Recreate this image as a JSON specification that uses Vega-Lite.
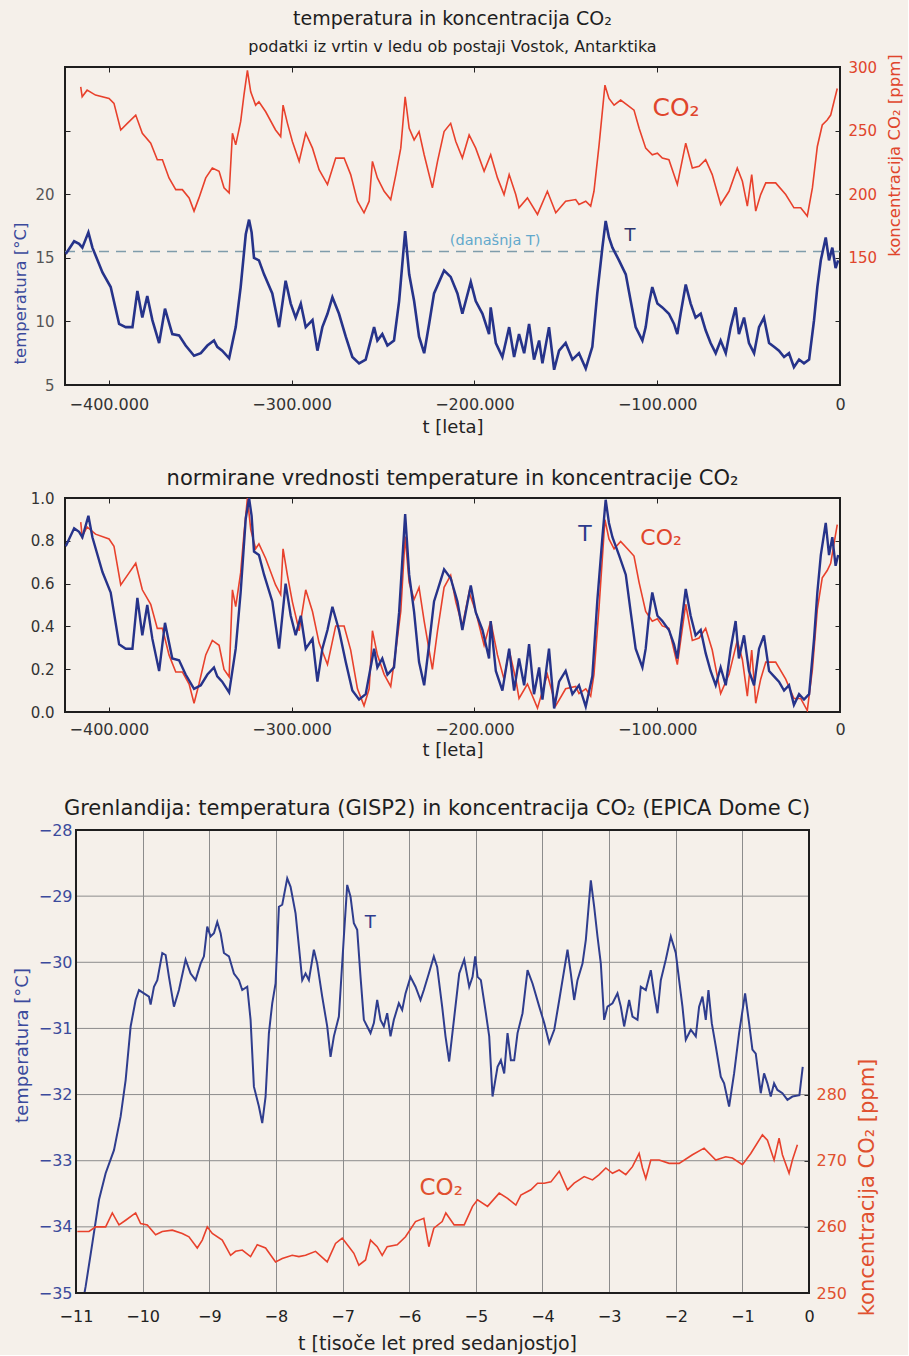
{
"$schema": "https://vega.github.io/schema/vega-lite/v6.json",
"background": "#f5f0ea",
"padding": {"left": 11, "top": 8, "right": 3, "bottom": 2},
"datasets": {
"vostokT": [
{"year":-423600,"T":15.3},{"year":-419000,"T":16.3},{"year":-416300,"T":16.1},{"year":-414500,"T":15.8},{"year":-411200,"T":17.0},{"year":-409000,"T":15.8},{"year":-403500,"T":13.85},{"year":-399000,"T":12.7},{"year":-394400,"T":9.8},{"year":-390800,"T":9.55},{"year":-387100,"T":9.55},{"year":-384400,"T":12.4},{"year":-381700,"T":10.3},{"year":-379000,"T":12.0},{"year":-376200,"T":10.1},{"year":-372500,"T":8.3},{"year":-369300,"T":11.0},{"year":-365300,"T":9.0},{"year":-361600,"T":8.9},{"year":-358000,"T":8.1},{"year":-353400,"T":7.3},{"year":-349700,"T":7.5},{"year":-346100,"T":8.1},{"year":-342500,"T":8.5},{"year":-340700,"T":8.0},{"year":-338000,"T":7.7},{"year":-334200,"T":7.1},{"year":-330600,"T":9.55},{"year":-327900,"T":12.7},{"year":-325100,"T":16.85},{"year":-323300,"T":18.0},{"year":-321900,"T":17.0},{"year":-320600,"T":15.0},{"year":-317900,"T":14.8},{"year":-315100,"T":13.7},{"year":-310600,"T":12.2},{"year":-306900,"T":9.55},{"year":-303300,"T":13.2},{"year":-300500,"T":11.4},{"year":-297800,"T":10.3},{"year":-295000,"T":11.4},{"year":-292300,"T":9.55},{"year":-288600,"T":10.1},{"year":-285900,"T":7.7},{"year":-283200,"T":9.55},{"year":-280400,"T":10.6},{"year":-277700,"T":11.9},{"year":-274100,"T":10.6},{"year":-270400,"T":8.8},{"year":-266800,"T":7.2},{"year":-263100,"T":6.7},{"year":-259500,"T":7.0},{"year":-254900,"T":9.55},{"year":-253100,"T":8.5},{"year":-250400,"T":9.0},{"year":-247600,"T":8.1},{"year":-244000,"T":8.5},{"year":-241200,"T":11.6},{"year":-237900,"T":17.1},{"year":-235700,"T":13.7},{"year":-233000,"T":11.6},{"year":-230300,"T":8.8},{"year":-227500,"T":7.5},{"year":-224800,"T":9.8},{"year":-222100,"T":12.2},{"year":-216600,"T":14.0},{"year":-213000,"T":13.5},{"year":-209300,"T":12.2},{"year":-206600,"T":10.6},{"year":-202000,"T":13.1},{"year":-199300,"T":11.6},{"year":-195600,"T":10.6},{"year":-192000,"T":9.0},{"year":-191100,"T":11.1},{"year":-188300,"T":8.3},{"year":-184700,"T":7.2},{"year":-181000,"T":9.55},{"year":-178300,"T":7.2},{"year":-175600,"T":9.0},{"year":-172800,"T":7.5},{"year":-170100,"T":9.8},{"year":-167400,"T":7.0},{"year":-164600,"T":8.5},{"year":-162800,"T":6.7},{"year":-159200,"T":9.55},{"year":-156400,"T":6.2},{"year":-153700,"T":7.7},{"year":-150100,"T":8.3},{"year":-146400,"T":7.0},{"year":-142800,"T":7.5},{"year":-139100,"T":6.3},{"year":-135500,"T":8.0},{"year":-132800,"T":12.2},{"year":-130000,"T":15.8},{"year":-128200,"T":17.9},{"year":-126400,"T":16.6},{"year":-124500,"T":15.8},{"year":-120900,"T":14.8},{"year":-117200,"T":13.7},{"year":-114500,"T":11.6},{"year":-111800,"T":9.55},{"year":-108100,"T":8.5},{"year":-106300,"T":9.55},{"year":-104500,"T":11.4},{"year":-102700,"T":12.7},{"year":-99900,"T":11.4},{"year":-97200,"T":11.1},{"year":-93600,"T":10.6},{"year":-90800,"T":9.8},{"year":-89000,"T":9.0},{"year":-87200,"T":10.6},{"year":-84400,"T":12.9},{"year":-81700,"T":11.4},{"year":-79000,"T":10.3},{"year":-76200,"T":10.6},{"year":-73500,"T":9.3},{"year":-70800,"T":8.3},{"year":-68000,"T":7.5},{"year":-65300,"T":8.5},{"year":-62500,"T":7.5},{"year":-59800,"T":9.55},{"year":-57100,"T":11.1},{"year":-55300,"T":9.0},{"year":-52500,"T":10.3},{"year":-49800,"T":8.3},{"year":-47000,"T":7.5},{"year":-44300,"T":9.55},{"year":-41600,"T":10.3},{"year":-38800,"T":8.3},{"year":-36100,"T":8.0},{"year":-33400,"T":7.7},{"year":-30600,"T":7.2},{"year":-27900,"T":7.5},{"year":-25200,"T":6.4},{"year":-22400,"T":7.0},{"year":-19700,"T":6.7},{"year":-16900,"T":7.0},{"year":-14200,"T":10.1},{"year":-12400,"T":12.7},{"year":-10500,"T":14.8},{"year":-7800,"T":16.6},{"year":-6000,"T":14.8},{"year":-4200,"T":15.8},{"year":-2400,"T":14.2},{"year":-1000,"T":14.8}
],
"vostokCO2": [
{"year":-415400,"co2":284.4},{"year":-414600,"co2":276.6},{"year":-411900,"co2":281.8},{"year":-407300,"co2":277.9},{"year":-399900,"co2":275.3},{"year":-397200,"co2":271.4},{"year":-393500,"co2":250.5},{"year":-389900,"co2":255.7},{"year":-385300,"co2":262.2},{"year":-381700,"co2":247.9},{"year":-377100,"co2":240.1},{"year":-373500,"co2":227.1},{"year":-370700,"co2":227.1},{"year":-367100,"co2":212.8},{"year":-363400,"co2":203.6},{"year":-359800,"co2":203.6},{"year":-356100,"co2":197.1},{"year":-353400,"co2":186.7},{"year":-350700,"co2":197.1},{"year":-347000,"co2":212.8},{"year":-343400,"co2":220.6},{"year":-339700,"co2":218.0},{"year":-337000,"co2":205.0},{"year":-334200,"co2":201.0},{"year":-332400,"co2":247.9},{"year":-330600,"co2":238.8},{"year":-327900,"co2":257.0},{"year":-326100,"co2":277.9},{"year":-324200,"co2":297.4},{"year":-322400,"co2":280.5},{"year":-319700,"co2":270.0},{"year":-317900,"co2":272.7},{"year":-314200,"co2":264.8},{"year":-308800,"co2":250.5},{"year":-306000,"co2":245.3},{"year":-304700,"co2":270.0},{"year":-302300,"co2":255.7},{"year":-299600,"co2":241.4},{"year":-295900,"co2":225.8},{"year":-292300,"co2":247.9},{"year":-288600,"co2":236.2},{"year":-285000,"co2":219.3},{"year":-280400,"co2":207.6},{"year":-275900,"co2":228.4},{"year":-271300,"co2":228.4},{"year":-267700,"co2":215.4},{"year":-264000,"co2":194.5},{"year":-260400,"co2":185.4},{"year":-257600,"co2":194.5},{"year":-255800,"co2":225.8},{"year":-253100,"co2":212.8},{"year":-249400,"co2":202.3},{"year":-245800,"co2":195.8},{"year":-243000,"co2":215.4},{"year":-240300,"co2":236.2},{"year":-237900,"co2":276.6},{"year":-235700,"co2":251.8},{"year":-233000,"co2":242.7},{"year":-230300,"co2":249.2},{"year":-227500,"co2":231.0},{"year":-223000,"co2":205.0},{"year":-220200,"co2":225.8},{"year":-216600,"co2":249.2},{"year":-213000,"co2":255.7},{"year":-210200,"co2":241.4},{"year":-206600,"co2":228.4},{"year":-202900,"co2":246.6},{"year":-199300,"co2":236.2},{"year":-194700,"co2":218.0},{"year":-191100,"co2":231.0},{"year":-187400,"co2":212.8},{"year":-183800,"co2":199.7},{"year":-181000,"co2":215.4},{"year":-177400,"co2":199.7},{"year":-175600,"co2":189.3},{"year":-171000,"co2":197.1},{"year":-165500,"co2":184.1},{"year":-160100,"co2":202.3},{"year":-155500,"co2":185.4},{"year":-150100,"co2":194.5},{"year":-144600,"co2":195.8},{"year":-142800,"co2":191.9},{"year":-139100,"co2":194.5},{"year":-136400,"co2":190.6},{"year":-134600,"co2":202.3},{"year":-131800,"co2":238.8},{"year":-128600,"co2":285.7},{"year":-126400,"co2":275.3},{"year":-123600,"co2":270.0},{"year":-120000,"co2":274.0},{"year":-116300,"co2":270.0},{"year":-112700,"co2":266.1},{"year":-109900,"co2":251.8},{"year":-106300,"co2":236.2},{"year":-102700,"co2":231.0},{"year":-99900,"co2":232.3},{"year":-97200,"co2":228.4},{"year":-93600,"co2":227.1},{"year":-89000,"co2":207.6},{"year":-84400,"co2":240.1},{"year":-80800,"co2":220.6},{"year":-77100,"co2":221.9},{"year":-73500,"co2":227.1},{"year":-69900,"co2":215.4},{"year":-65300,"co2":191.9},{"year":-60700,"co2":202.3},{"year":-56200,"co2":220.6},{"year":-53400,"co2":210.2},{"year":-50700,"co2":190.6},{"year":-48300,"co2":215.4},{"year":-46100,"co2":186.7},{"year":-43400,"co2":199.7},{"year":-40600,"co2":208.9},{"year":-35200,"co2":208.9},{"year":-29700,"co2":199.7},{"year":-25200,"co2":189.3},{"year":-21500,"co2":189.3},{"year":-17900,"co2":182.8},{"year":-15100,"co2":204.9},{"year":-12400,"co2":237.5},{"year":-9700,"co2":254.4},{"year":-7000,"co2":258.3},{"year":-5100,"co2":262.2},{"year":-3300,"co2":272.7},{"year":-1500,"co2":283.1}
],
"gispT": [
{"t":-10.9,"T":-35.15},{"t":-10.855,"T":-34.9},{"t":-10.755,"T":-34.25},{"t":-10.655,"T":-33.59},{"t":-10.555,"T":-33.19},{"t":-10.43,"T":-32.84},{"t":-10.33,"T":-32.33},{"t":-10.255,"T":-31.78},{"t":-10.18,"T":-30.97},{"t":-10.105,"T":-30.57},{"t":-10.055,"T":-30.42},{"t":-9.98,"T":-30.47},{"t":-9.905,"T":-30.52},{"t":-9.88,"T":-30.64},{"t":-9.83,"T":-30.37},{"t":-9.78,"T":-30.27},{"t":-9.705,"T":-29.86},{"t":-9.655,"T":-29.89},{"t":-9.605,"T":-30.22},{"t":-9.53,"T":-30.67},{"t":-9.455,"T":-30.42},{"t":-9.355,"T":-29.96},{"t":-9.28,"T":-30.17},{"t":-9.205,"T":-30.27},{"t":-9.13,"T":-30.02},{"t":-9.08,"T":-29.91},{"t":-9.03,"T":-29.46},{"t":-8.98,"T":-29.61},{"t":-8.93,"T":-29.56},{"t":-8.88,"T":-29.39},{"t":-8.83,"T":-29.56},{"t":-8.78,"T":-29.86},{"t":-8.705,"T":-29.91},{"t":-8.63,"T":-30.17},{"t":-8.555,"T":-30.27},{"t":-8.505,"T":-30.42},{"t":-8.43,"T":-30.37},{"t":-8.38,"T":-30.87},{"t":-8.33,"T":-31.88},{"t":-8.255,"T":-32.18},{"t":-8.205,"T":-32.43},{"t":-8.155,"T":-32.03},{"t":-8.105,"T":-31.07},{"t":-8.055,"T":-30.62},{"t":-8.005,"T":-30.32},{"t":-7.955,"T":-29.16},{"t":-7.905,"T":-29.13},{"t":-7.83,"T":-28.73},{"t":-7.78,"T":-28.86},{"t":-7.705,"T":-29.26},{"t":-7.655,"T":-29.76},{"t":-7.605,"T":-30.27},{"t":-7.555,"T":-30.17},{"t":-7.505,"T":-30.27},{"t":-7.43,"T":-29.81},{"t":-7.38,"T":-30.02},{"t":-7.305,"T":-30.52},{"t":-7.23,"T":-30.97},{"t":-7.18,"T":-31.43},{"t":-7.13,"T":-31.12},{"t":-7.055,"T":-30.82},{"t":-6.98,"T":-29.61},{"t":-6.93,"T":-28.83},{"t":-6.88,"T":-29.01},{"t":-6.83,"T":-29.41},{"t":-6.78,"T":-29.51},{"t":-6.73,"T":-30.22},{"t":-6.68,"T":-30.87},{"t":-6.63,"T":-30.97},{"t":-6.58,"T":-31.07},{"t":-6.53,"T":-30.92},{"t":-6.48,"T":-30.57},{"t":-6.43,"T":-30.87},{"t":-6.38,"T":-30.97},{"t":-6.33,"T":-30.77},{"t":-6.28,"T":-31.12},{"t":-6.23,"T":-30.87},{"t":-6.155,"T":-30.62},{"t":-6.105,"T":-30.72},{"t":-6.055,"T":-30.47},{"t":-5.98,"T":-30.22},{"t":-5.905,"T":-30.37},{"t":-5.83,"T":-30.57},{"t":-5.78,"T":-30.42},{"t":-5.705,"T":-30.17},{"t":-5.63,"T":-29.91},{"t":-5.58,"T":-30.07},{"t":-5.505,"T":-30.67},{"t":-5.455,"T":-31.12},{"t":-5.4,"T":-31.5},{"t":-5.249,"T":-30.17},{"t":-5.174,"T":-29.96},{"t":-5.099,"T":-30.37},{"t":-5.049,"T":-30.22},{"t":-5.009,"T":-29.91},{"t":-4.974,"T":-30.22},{"t":-4.924,"T":-30.27},{"t":-4.849,"T":-30.77},{"t":-4.799,"T":-31.12},{"t":-4.749,"T":-32.03},{"t":-4.674,"T":-31.58},{"t":-4.624,"T":-31.48},{"t":-4.574,"T":-31.68},{"t":-4.524,"T":-31.07},{"t":-4.474,"T":-31.48},{"t":-4.424,"T":-31.48},{"t":-4.374,"T":-31.07},{"t":-4.299,"T":-30.77},{"t":-4.224,"T":-30.12},{"t":-4.149,"T":-30.32},{"t":-4.048,"T":-30.67},{"t":-3.973,"T":-30.92},{"t":-3.898,"T":-31.22},{"t":-3.823,"T":-31.02},{"t":-3.748,"T":-30.57},{"t":-3.699,"T":-30.27},{"t":-3.624,"T":-29.81},{"t":-3.574,"T":-30.17},{"t":-3.524,"T":-30.57},{"t":-3.474,"T":-30.27},{"t":-3.399,"T":-30.02},{"t":-3.349,"T":-29.66},{"t":-3.274,"T":-28.76},{"t":-3.224,"T":-29.16},{"t":-3.174,"T":-29.61},{"t":-3.124,"T":-30.02},{"t":-3.074,"T":-30.87},{"t":-3.024,"T":-30.67},{"t":-2.949,"T":-30.62},{"t":-2.874,"T":-30.47},{"t":-2.824,"T":-30.67},{"t":-2.774,"T":-30.97},{"t":-2.699,"T":-30.57},{"t":-2.649,"T":-30.82},{"t":-2.574,"T":-30.87},{"t":-2.524,"T":-30.37},{"t":-2.449,"T":-30.42},{"t":-2.374,"T":-30.12},{"t":-2.324,"T":-30.47},{"t":-2.274,"T":-30.77},{"t":-2.224,"T":-30.27},{"t":-2.149,"T":-29.96},{"t":-2.074,"T":-29.61},{"t":-1.999,"T":-29.86},{"t":-1.949,"T":-30.27},{"t":-1.899,"T":-30.67},{"t":-1.849,"T":-31.17},{"t":-1.774,"T":-31.02},{"t":-1.699,"T":-31.12},{"t":-1.649,"T":-30.67},{"t":-1.599,"T":-30.52},{"t":-1.549,"T":-30.87},{"t":-1.509,"T":-30.42},{"t":-1.459,"T":-30.92},{"t":-1.399,"T":-31.27},{"t":-1.324,"T":-31.73},{"t":-1.274,"T":-31.83},{"t":-1.199,"T":-32.18},{"t":-1.124,"T":-31.68},{"t":-1.049,"T":-31.07},{"t":-0.959,"T":-30.47},{"t":-0.899,"T":-30.92},{"t":-0.849,"T":-31.32},{"t":-0.799,"T":-31.38},{"t":-0.724,"T":-31.98},{"t":-0.674,"T":-31.68},{"t":-0.624,"T":-31.83},{"t":-0.574,"T":-32.03},{"t":-0.524,"T":-31.83},{"t":-0.474,"T":-31.93},{"t":-0.399,"T":-31.98},{"t":-0.324,"T":-32.08},{"t":-0.249,"T":-32.03},{"t":-0.144,"T":-32.01},{"t":-0.094,"T":-31.58}
],
"epicaCO2": [
{"t":-10.98,"co2":259.3},{"t":-10.805,"co2":259.3},{"t":-10.705,"co2":260.0},{"t":-10.555,"co2":260.0},{"t":-10.455,"co2":262.1},{"t":-10.355,"co2":260.3},{"t":-10.255,"co2":261.0},{"t":-10.105,"co2":262.1},{"t":-10.03,"co2":260.5},{"t":-9.93,"co2":260.3},{"t":-9.805,"co2":258.8},{"t":-9.705,"co2":259.3},{"t":-9.555,"co2":259.5},{"t":-9.405,"co2":259.0},{"t":-9.305,"co2":258.5},{"t":-9.18,"co2":256.8},{"t":-9.105,"co2":258.0},{"t":-9.03,"co2":260.0},{"t":-8.955,"co2":259.0},{"t":-8.805,"co2":258.0},{"t":-8.68,"co2":255.7},{"t":-8.605,"co2":256.3},{"t":-8.505,"co2":256.5},{"t":-8.38,"co2":255.5},{"t":-8.28,"co2":257.3},{"t":-8.155,"co2":256.8},{"t":-8.005,"co2":254.7},{"t":-7.905,"co2":255.2},{"t":-7.755,"co2":255.7},{"t":-7.655,"co2":255.5},{"t":-7.555,"co2":255.7},{"t":-7.405,"co2":256.3},{"t":-7.23,"co2":254.7},{"t":-7.105,"co2":257.5},{"t":-7.005,"co2":258.3},{"t":-6.905,"co2":257.0},{"t":-6.83,"co2":256.0},{"t":-6.755,"co2":254.2},{"t":-6.655,"co2":255.0},{"t":-6.58,"co2":258.0},{"t":-6.48,"co2":257.0},{"t":-6.405,"co2":255.7},{"t":-6.33,"co2":257.0},{"t":-6.18,"co2":257.3},{"t":-6.055,"co2":258.5},{"t":-5.905,"co2":260.8},{"t":-5.78,"co2":261.3},{"t":-5.705,"co2":257.0},{"t":-5.63,"co2":259.8},{"t":-5.505,"co2":260.8},{"t":-5.45,"co2":262.1},{"t":-5.325,"co2":260.3},{"t":-5.174,"co2":260.3},{"t":-5.049,"co2":263.1},{"t":-4.974,"co2":264.1},{"t":-4.824,"co2":263.1},{"t":-4.649,"co2":265.1},{"t":-4.524,"co2":264.3},{"t":-4.399,"co2":263.3},{"t":-4.324,"co2":264.8},{"t":-4.174,"co2":265.6},{"t":-4.073,"co2":266.6},{"t":-3.973,"co2":266.6},{"t":-3.873,"co2":266.8},{"t":-3.748,"co2":268.4},{"t":-3.624,"co2":265.6},{"t":-3.524,"co2":266.6},{"t":-3.374,"co2":267.6},{"t":-3.249,"co2":267.1},{"t":-3.149,"co2":267.9},{"t":-3.049,"co2":268.9},{"t":-2.949,"co2":268.1},{"t":-2.849,"co2":268.6},{"t":-2.749,"co2":267.9},{"t":-2.649,"co2":269.1},{"t":-2.549,"co2":271.1},{"t":-2.499,"co2":268.9},{"t":-2.449,"co2":267.3},{"t":-2.374,"co2":270.1},{"t":-2.249,"co2":270.1},{"t":-2.099,"co2":269.6},{"t":-1.949,"co2":269.6},{"t":-1.749,"co2":270.9},{"t":-1.574,"co2":271.9},{"t":-1.399,"co2":270.1},{"t":-1.249,"co2":270.6},{"t":-1.149,"co2":270.4},{"t":-0.999,"co2":269.4},{"t":-0.874,"co2":271.1},{"t":-0.699,"co2":273.9},{"t":-0.624,"co2":273.1},{"t":-0.524,"co2":270.1},{"t":-0.449,"co2":273.4},{"t":-0.399,"co2":270.9},{"t":-0.299,"co2":268.1},{"t":-0.249,"co2":270.1},{"t":-0.174,"co2":272.4}
]
},
"columns": 1,
"spacing": 30,
"concat": [
{
"width": 775, "height": 318,
"title": {"text": "temperatura in koncentracija CO₂", "subtitle": "podatki iz vrtin v ledu ob postaji Vostok, Antarktika", "fontSize": 19, "subtitleFontSize": 16, "subtitleColor": "#1e1e1e", "subtitleFont": "DejaVu Sans", "subtitlePadding": 10, "offset": -1},
"resolve": {"scale": {"y": "independent"}, "axis": {"x": "independent"}},
"layer": [
{"layer": [
{"data": {"name": "vostokCO2"}, "mark": {"type": "line", "color": "#e8412c", "strokeWidth": 1.6, "clip": true},
"encoding": {
"x": {"field": "year", "type": "quantitative", "scale": {"domain": [-424000, 0], "nice": false}, "axis": {"orient": "top", "labels": false, "title": null, "tickSize": -5, "values": [-400000, -300000, -200000, -100000]}},
"y": {"field": "co2", "type": "quantitative", "scale": {"domain": [50, 300], "nice": false}, "axis": {"orient": "right", "values": [100, 150, 200, 250, 300], "labelExpr": "datum.value == 100 ? '' : datum.label", "tickSize": -5, "labelPadding": 13, "labelColor": "#e0452c", "labelFontSize": 15, "title": "koncentracija CO₂ [ppm]", "titleColor": "#e0452c", "titleFontSize": 16.5, "titleAngle": 270, "titleBaseline": "top", "titleY": 88, "titlePadding": 10}}
}},
{"data": {"values": [{"year": -89700, "co2": 267.8, "label": "CO₂"}]}, "mark": {"type": "text", "color": "#e0452c", "fontSize": 25, "baseline": "middle"},
"encoding": {"x": {"field": "year", "type": "quantitative", "scale": {"domain": [-424000, 0], "nice": false}}, "y": {"field": "co2", "type": "quantitative", "scale": {"domain": [50, 300], "nice": false}}, "text": {"field": "label"}}}
]},
{"layer": [
{"data": {"values": [{"T": 15.5}]}, "mark": {"type": "rule", "strokeDash": [10, 7], "color": "#7f9cab", "strokeWidth": 1.4},
"encoding": {"y": {"field": "T", "type": "quantitative", "scale": {"domain": [5, 30], "nice": false}}}},
{"data": {"name": "vostokT"}, "mark": {"type": "line", "color": "#26338a", "strokeWidth": 2.6, "clip": true},
"encoding": {
"x": {"field": "year", "type": "quantitative", "scale": {"domain": [-424000, 0], "nice": false}, "axis": {"orient": "bottom", "values": [-400000, -300000, -200000, -100000, 0], "labelExpr": "replace(format(datum.value, ',d'), ',', '.')", "labelFlush": false, "tickSize": -5, "labelPadding": 16, "labelFontSize": 16, "labelColor": "#333", "title": "t [leta]", "titleFontSize": 18, "titlePadding": 6}},
"y": {"field": "T", "type": "quantitative", "scale": {"domain": [5, 30], "nice": false}, "axis": {"orient": "left", "values": [5, 10, 15, 20, 25], "labelExpr": "datum.value == 25 ? '' : datum.label", "tickSize": -5, "labelPadding": 16, "labelFontSize": 15, "labelColor": "#555", "title": "temperatura [°C]", "titleColor": "#3b4a9c", "titleFontSize": 16.5, "titlePadding": 6, "titleY": 226}}
}},
{"data": {"values": [{"year": -114900, "T": 16.7, "label": "T"}]}, "mark": {"type": "text", "color": "#2c356e", "fontSize": 18, "baseline": "middle"},
"encoding": {"x": {"field": "year", "type": "quantitative", "scale": {"domain": [-424000, 0], "nice": false}}, "y": {"field": "T", "type": "quantitative", "scale": {"domain": [5, 30], "nice": false}}, "text": {"field": "label"}}},
{"data": {"values": [{"year": -188700, "T": 16.3, "label": "(današnja T)"}]}, "mark": {"type": "text", "color": "#62a8cc", "fontSize": 14.5, "baseline": "middle"},
"encoding": {"x": {"field": "year", "type": "quantitative", "scale": {"domain": [-424000, 0], "nice": false}}, "y": {"field": "T", "type": "quantitative", "scale": {"domain": [5, 30], "nice": false}}, "text": {"field": "label"}}}
]}
]
},
{
"width": 775, "height": 214,
"title": {"text": "normirane vrednosti temperature in koncentracije CO₂", "fontSize": 21, "offset": 2},
"resolve": {"scale": {"y": "independent"}, "axis": {"x": "independent"}},
"layer": [
{"layer": [
{"data": {"name": "vostokCO2"}, "mark": {"type": "line", "color": "#e8412c", "strokeWidth": 1.6, "clip": true},
"encoding": {
"x": {"field": "year", "type": "quantitative", "scale": {"domain": [-424000, 0], "nice": false}, "axis": {"orient": "top", "labels": false, "title": null, "tickSize": -5, "values": [-400000, -300000, -200000, -100000]}},
"y": {"field": "co2", "type": "quantitative", "scale": {"domain": [182, 297.4], "nice": false}, "axis": {"orient": "right", "values": [205.08, 228.16, 251.24, 274.32], "labels": false, "tickSize": -5, "title": null}}
}}
]},
{"layer": [
{"data": {"name": "vostokT"}, "mark": {"type": "line", "color": "#26338a", "strokeWidth": 2.4, "clip": true},
"encoding": {
"x": {"field": "year", "type": "quantitative", "scale": {"domain": [-424000, 0], "nice": false}, "axis": {"orient": "bottom", "values": [-400000, -300000, -200000, -100000, 0], "labelExpr": "replace(format(datum.value, ',d'), ',', '.')", "labelFlush": false, "tickSize": -5, "labelPadding": 14, "labelFontSize": 16, "labelColor": "#333", "title": ["t [leta]", ""], "titleLineHeight": 8, "titleFontSize": 18, "titlePadding": 4}},
"y": {"field": "T", "type": "quantitative", "scale": {"domain": [6, 18], "nice": false}, "axis": {"orient": "left", "values": [6, 8.4, 10.8, 13.2, 15.6, 18], "labelExpr": "format((datum.value - 6) / 12, '.1f')", "tickSize": -5, "labelPadding": 16, "labelFontSize": 15, "labelColor": "#333", "title": null}}
}},
{"data": {"values": [{"year": -139500, "T": 15.98, "label": "T", "series": "T"}, {"year": -97900, "T": 15.76, "label": "CO₂", "series": "CO2"}]}, "mark": {"type": "text", "fontSize": 22, "baseline": "middle"},
"encoding": {"x": {"field": "year", "type": "quantitative", "scale": {"domain": [-424000, 0], "nice": false}}, "y": {"field": "T", "type": "quantitative", "scale": {"domain": [6, 18], "nice": false}}, "text": {"field": "label"}, "color": {"field": "series", "type": "nominal", "scale": {"domain": ["T", "CO2"], "range": ["#2c3a8c", "#e0452c"]}, "legend": null}}}
]}
]
},
{
"width": 744, "height": 463,
"view": {"stroke": null},
"title": {"text": "Grenlandija: temperatura (GISP2) in koncentracija CO₂ (EPICA Dome C)", "fontSize": 21, "offset": 3},
"resolve": {"scale": {"y": "independent"}},
"layer": [
{"layer": [
{"data": {"values": [{"g": -34}, {"g": -33}, {"g": -32}, {"g": -31}, {"g": -30}, {"g": -29}]}, "mark": {"type": "rule", "color": "#8c8c8c", "strokeWidth": 1},
"encoding": {"x": {"datum": -11, "type": "quantitative", "scale": {"domain": [-11.165, 0], "nice": false}}, "x2": {"datum": 0}, "y": {"field": "g", "type": "quantitative", "scale": {"domain": [-35, -28], "nice": false}}}},
{"data": {"name": "gispT"}, "mark": {"type": "line", "color": "#2f3d8e", "strokeWidth": 2, "clip": true},
"encoding": {
"x": {"field": "t", "type": "quantitative", "scale": {"domain": [-11.165, 0], "nice": false}, "axis": {"values": [-11, -10, -9, -8, -7, -6, -5, -4, -3, -2, -1, 0], "format": "d", "labelFlush": false, "grid": true, "gridColor": "#8c8c8c", "gridWidth": 1, "ticks": false, "labelPadding": 15, "labelFontSize": 16, "labelColor": "#222", "title": "t [tisoče let pred sedanjostjo]", "titleFontSize": 19, "titlePadding": 10}},
"y": {"field": "T", "type": "quantitative", "scale": {"domain": [-35, -28], "nice": false}, "axis": {"orient": "left", "offset": -11, "values": [-35, -34, -33, -32, -31, -30, -29, -28], "format": "d", "grid": false, "ticks": false, "labelPadding": 4, "labelFontSize": 16, "labelColor": "#3b4a9c", "title": "temperatura [°C]", "titleColor": "#3b4a9c", "titleFontSize": 18, "titlePadding": 7, "titleY": 215}}
}},
{"data": {"values": [{"t": -6.585, "T": -29.41, "label": "T"}]}, "mark": {"type": "text", "color": "#2f3d8e", "fontSize": 18, "baseline": "middle"},
"encoding": {"x": {"field": "t", "type": "quantitative", "scale": {"domain": [-11.165, 0], "nice": false}}, "y": {"field": "T", "type": "quantitative", "scale": {"domain": [-35, -28], "nice": false}}, "text": {"field": "label"}}},
{"data": {"values": [{}]}, "mark": {"type": "rect", "fill": null, "fillOpacity": 0, "stroke": "#1e1e1e", "strokeWidth": 2},
"encoding": {"x": {"datum": -11, "type": "quantitative", "scale": {"domain": [-11.165, 0], "nice": false}}, "x2": {"datum": 0}, "y": {"datum": -35, "type": "quantitative", "scale": {"domain": [-35, -28], "nice": false}}, "y2": {"datum": -28}}}
]},
{"layer": [
{"data": {"name": "epicaCO2"}, "mark": {"type": "line", "color": "#e8412c", "strokeWidth": 1.6, "clip": true},
"encoding": {
"x": {"field": "t", "type": "quantitative", "scale": {"domain": [-11.165, 0], "nice": false}},
"y": {"field": "co2", "type": "quantitative", "scale": {"domain": [250, 320], "nice": false}, "axis": {"orient": "right", "values": [250, 260, 270, 280], "tickSize": -5, "labelPadding": 12, "labelFontSize": 16, "labelColor": "#e0502f", "title": "koncentracija CO₂ [ppm]", "titleColor": "#e0502f", "titleFontSize": 21, "titleAngle": 270, "titleBaseline": "top", "titleY": 357, "titlePadding": 10}}
}},
{"data": {"values": [{"t": -5.52, "co2": 265.9, "label": "CO₂"}]}, "mark": {"type": "text", "color": "#e0502f", "fontSize": 23, "baseline": "middle"},
"encoding": {"x": {"field": "t", "type": "quantitative", "scale": {"domain": [-11.165, 0], "nice": false}}, "y": {"field": "co2", "type": "quantitative", "scale": {"domain": [250, 320], "nice": false}}, "text": {"field": "label"}}}
]}
]
}
],
"config": {
"font": "DejaVu Sans",
"view": {"stroke": "#1e1e1e", "strokeWidth": 2},
"axis": {"domain": false, "grid": false, "tickColor": "#222", "labelFont": "DejaVu Sans", "titleFont": "DejaVu Sans", "titleFontWeight": "normal", "labelColor": "#333", "titleColor": "#222"},
"text": {"font": "DejaVu Sans"},
"title": {"font": "DejaVu Sans", "fontWeight": "normal", "color": "#1e1e1e", "anchor": "middle"}
}
}
